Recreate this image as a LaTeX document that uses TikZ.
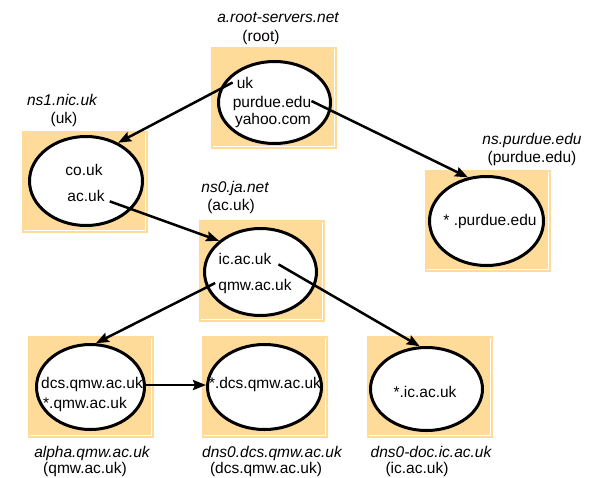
\documentclass[tikz,border=0pt]{standalone}
\usepackage{fontspec}
\setmainfont{Liberation Sans}
\usetikzlibrary{shapes.geometric,arrows.meta}
\definecolor{zonefill}{RGB}{255,219,153}

\begin{document}
\begin{tikzpicture}[x=1pt,y=-1pt,>={Stealth[length=13pt,width=10pt,inset=2pt]},
		font=\fontsize{15.5}{18}\selectfont,
		zone/.style={fill=zonefill,minimum width=126pt,minimum height=102pt,inner sep=0pt,
			path picture={\draw[white,line width=0.8pt]
				([xshift=2pt,yshift=2.5pt]path picture bounding box.south west) --
				([xshift=-2.5pt,yshift=2.5pt]path picture bounding box.south east) --
				([xshift=-2.5pt,yshift=-2pt]path picture bounding box.north east);}},
		server/.style={ellipse,draw,line width=3pt,fill=white,minimum width=112pt,minimum height=86pt,inner sep=0pt},
		entry/.style={anchor=base,inner sep=0pt},
		host/.style={anchor=base,inner sep=0pt,font=\fontsize{15.5}{18}\selectfont\itshape},
		link/.style={->,line width=2.5pt}]
		\useasboundingbox (0,0) rectangle (596,477);
		% 区域
		\node[zone] (rootbox) at (273.5,98) {};
		\node[zone] (ns1box) at (84.5,182) {};
		\node[zone] (ns0box) at (261.5,271) {};
		\node[zone] (purduebox) at (487.5,220.5) {};
		\node[zone] (alphabox) at (90.5,387) {};
		\node[zone] (dcsbox) at (265,387) {};
		\node[zone] (docbox) at (430,387) {};
		% 服务器
		\node[server,minimum height=82pt] (root) at (274.5,102.5) {};
		\node[server,minimum width=113pt,minimum height=89pt] (ns1) at (86,181) {};
		\node[server,minimum height=87pt] (ns0) at (260.5,272) {};
		\node[server,minimum width=114pt,minimum height=89pt] (purdue) at (486.5,221) {};
		\node[server,minimum width=108pt,minimum height=85pt] (alpha) at (90.5,387) {};
		\node[server,minimum width=114pt,minimum height=85pt] (dcs) at (264.5,387) {};
		\node[server,minimum height=83pt] (doc) at (426.5,389) {};
		% 名称
		\node[host] (rootname) at (278,22) {a.root-servers.net};
		\node[entry] (rootzone) at (261,41) {(root)};
		\node[host] (ns1name) at (62,105) {ns1.nic.uk};
		\node[entry] (ns1zone) at (64,123) {(uk)};
		\node[host] (ns0name) at (235,192) {ns0.ja.net};
		\node[entry] (ns0zone) at (231,210) {(ac.uk)};
		\node[host] (purduename) at (532,144) {ns.purdue.edu};
		\node[entry] (purduezone) at (532,162) {(purdue.edu)};
		\node[host] (alphaname) at (92,457) {alpha.qmw.ac.uk};
		\node[entry] (alphazone) at (85,473) {(qmw.ac.uk)};
		\node[host] (dcsname) at (272,457) {dns0.dcs.qmw.ac.uk};
		\node[entry] (dcszone) at (266,473) {(dcs.qmw.ac.uk)};
		\node[host] (docname) at (431,457) {dns0-doc.ic.ac.uk};
		\node[entry] (doczone) at (417,473) {(ic.ac.uk)};
		% 条目
		\node[entry] (rootuk) at (245,88) {uk};
		\node[entry] (rootpurdue) at (272,107) {purdue.edu};
		\node[entry] (rootyahoo) at (273,124) {yahoo.com};
		\node[entry] (ns1co) at (84,175) {co.uk};
		\node[entry] (ns1ac) at (86,201) {ac.uk};
		\node[entry] (ns0ic) at (245,264) {ic.ac.uk};
		\node[entry] (ns0qmw) at (255,290) {qmw.ac.uk};
		\node[entry] (purduestar) at (490,225) {* .purdue.edu};
		\node[entry] (alphadcs) at (92,388) {dcs.qmw.ac.uk};
		\node[entry] (alphastar) at (85,408) {*.qmw.ac.uk};
		\node[entry] (dcsstar) at (265,388) {*.dcs.qmw.ac.uk};
		\node[entry] (docstar) at (425,397) {*.ic.ac.uk};
		% 委派
		\draw[link] ([xshift=-4pt]rootuk.west) -- (ns1.50);
		\draw[link] ([yshift=2pt]rootpurdue.east) -- (purdue.113);
		\draw[link] ([xshift=5pt]ns1ac.south east) -- (ns0.143);
		\draw[link] ([xshift=-3pt,yshift=3pt]ns0qmw.west) -- (alpha.83);
		\draw[link] ([xshift=7pt]ns0ic.south east) -- (doc.99);
		\draw[link] ([yshift=2pt]alpha.east) -- ([yshift=2pt]dcs.west);
\end{tikzpicture}
\end{document}
